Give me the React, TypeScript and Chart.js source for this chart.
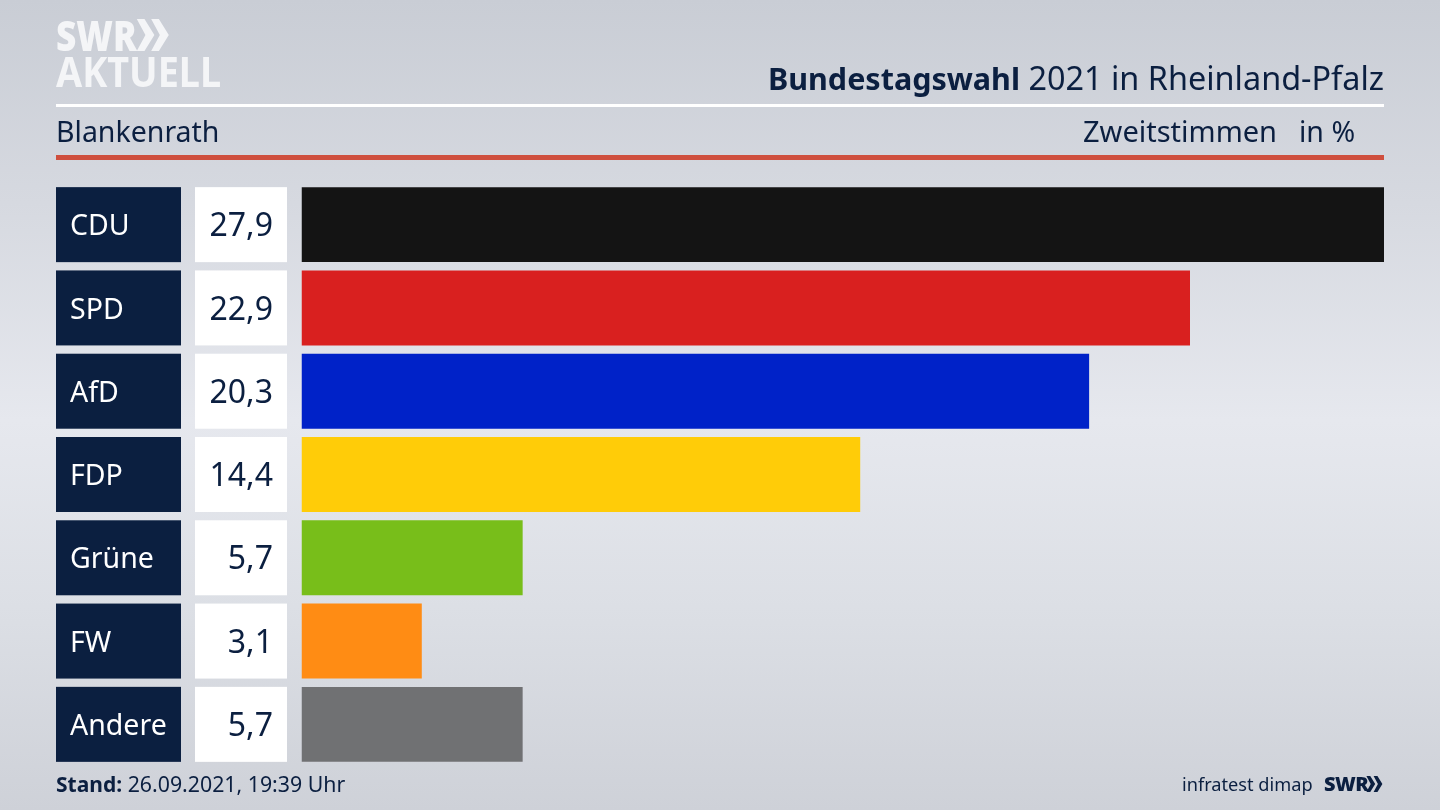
import React, { useEffect, useRef } from "react";
import { Chart, registerables } from "chart.js";

Chart.register(...registerables);

const parties = ["CDU", "SPD", "AfD", "FDP", "Grüne", "FW", "Andere"];
const shares = [27.9, 22.9, 20.3, 14.4, 5.7, 3.1, 5.7];
const partyColors = ["#141414", "#d9201f", "#0022c8", "#ffcc08", "#78be1a", "#ff8c14", "#707173"];

const FONT = '"Noto Sans", sans-serif';
const NAVY = "#0b1f40";

const boxes = {
  id: "boxes",
  beforeDraw(chart: any) {
    const { ctx, scales } = chart;
    const y = scales.y;
    ctx.save();
    parties.forEach((_, i) => {
      const c = y.getPixelForValue(i);
      ctx.fillStyle = NAVY;
      ctx.fillRect(56, c - 37.5, 125, 75);
      ctx.fillStyle = "#ffffff";
      ctx.fillRect(195, c - 37.5, 92, 75);
    });
    ctx.restore();
  },
  afterDatasetsDraw(chart: any) {
    const { ctx, scales } = chart;
    const y = scales.y;
    ctx.save();
    ctx.textBaseline = "middle";
    parties.forEach((name, i) => {
      const c = y.getPixelForValue(i);
      ctx.fillStyle = "#ffffff";
      ctx.font = `400 28.5px ${FONT}`;
      ctx.textAlign = "left";
      ctx.fillText(name, 70, c + 2.5);
      ctx.fillStyle = NAVY;
      ctx.font = `400 32px ${FONT}`;
      ctx.textAlign = "right";
      ctx.fillText(shares[i].toFixed(1).replace(".", ","), 273, c + 2.5);
    });
    ctx.restore();
  },
};

const abs = (left: number, top: number, extra: any = {}): any => ({
  position: "absolute",
  left,
  top,
  whiteSpace: "nowrap",
  fontFamily: FONT,
  color: NAVY,
  ...extra,
});

function Chevrons({ left, top, h, color }: any) {
  const w = h * 1.05;
  return (
    <svg style={{ position: "absolute", left, top }} width={w} height={h} viewBox="0 0 100 100">
      <path d="M0 0 L24 0 L55 50 L24 100 L0 100 L27 50 Z" fill={color} />
      <path d="M45 0 L69 0 L100 50 L69 100 L45 100 L72 50 Z" fill={color} />
    </svg>
  );
}

export default function App() {
  const ref = useRef<HTMLCanvasElement>(null);
  useEffect(() => {
    document.body.style.margin = "0";
    const chart = new Chart(ref.current!, {
      type: "bar",
      data: {
        labels: parties,
        datasets: [
          {
            data: shares,
            backgroundColor: partyColors,
            barPercentage: 0.9,
            categoryPercentage: 1,
          },
        ],
      },
      options: {
        indexAxis: "y",
        animation: false,
        responsive: false,
        layout: { padding: { left: 70, right: 56, top: 183, bottom: 44 } },
        plugins: { legend: { display: false }, tooltip: { enabled: false } },
        scales: {
          x: { display: false, min: 0, max: 27.9 },
          y: {
            afterFit(s: any) {
              s.width = 231.5;
            },
            grid: { display: false },
            border: { display: false },
            ticks: { display: false },
          },
        },
      },
      plugins: [boxes],
    } as any);
    return () => chart.destroy();
  }, []);

  const logoWhite = "#f4f5f7";
  return (
    <div
      style={{
        position: "relative",
        width: 1440,
        height: 810,
        overflow: "hidden",
        background: "linear-gradient(180deg,#c9cdd5 0%,#d6d9e0 25%,#e6e8ee 52%,#dcdfe5 75%,#ced1d8 100%)",
      }}
    >
      <canvas ref={ref} width={1440} height={810} style={{ position: "absolute", left: 0, top: 0 }} />

      <div style={abs(56, 10, { fontSize: 42, fontWeight: 900, color: logoWhite, lineHeight: "50px", transform: "scaleX(0.84)", transformOrigin: "left" })}>SWR</div>
      <Chevrons left={136} top={19} h={32} color={logoWhite} />
      <div style={abs(56, 46, { fontSize: 42, fontWeight: 700, color: logoWhite, lineHeight: "50px", transform: "scaleX(0.9)", transformOrigin: "left" })}>AKTUELL</div>

      <div style={{ position: "absolute", left: 56, top: 104, width: 1328, height: 3, background: "#ffffff" }} />
      <div style={{ position: "absolute", left: 56, top: 155, width: 1328, height: 5, background: "#cf4f3e" }} />

      <div style={abs(0, 56, { left: "auto", right: 56, fontSize: 32.4, lineHeight: "42px" })}>
        <b style={{ fontSize: 30.5 }}>Bundestagswahl</b> 2021 in Rheinland-Pfalz
      </div>
      <div style={abs(56, 111, { fontSize: 28.5, lineHeight: "40px" })}>Blankenrath</div>
      <div style={abs(1083, 111, { fontSize: 29, lineHeight: "40px" })}>Zweitstimmen</div>
      <div style={abs(1299, 111, { fontSize: 28.5, lineHeight: "40px" })}>in %</div>

      <div style={abs(56, 769, { fontSize: 21.3, lineHeight: "30px" })}>
        <b style={{ fontSize: 21 }}>Stand:</b> 26.09.2021, 19:39 Uhr
      </div>
      <div style={abs(1182, 769, { fontSize: 18.2, lineHeight: "30px" })}>infratest dimap</div>
      <div style={abs(1324, 769, { fontSize: 20, fontWeight: 900, letterSpacing: -0.5, lineHeight: "30px" })}>SWR</div>
      <Chevrons left={1366} top={776} h={16} color={NAVY} />
    </div>
  );
}
